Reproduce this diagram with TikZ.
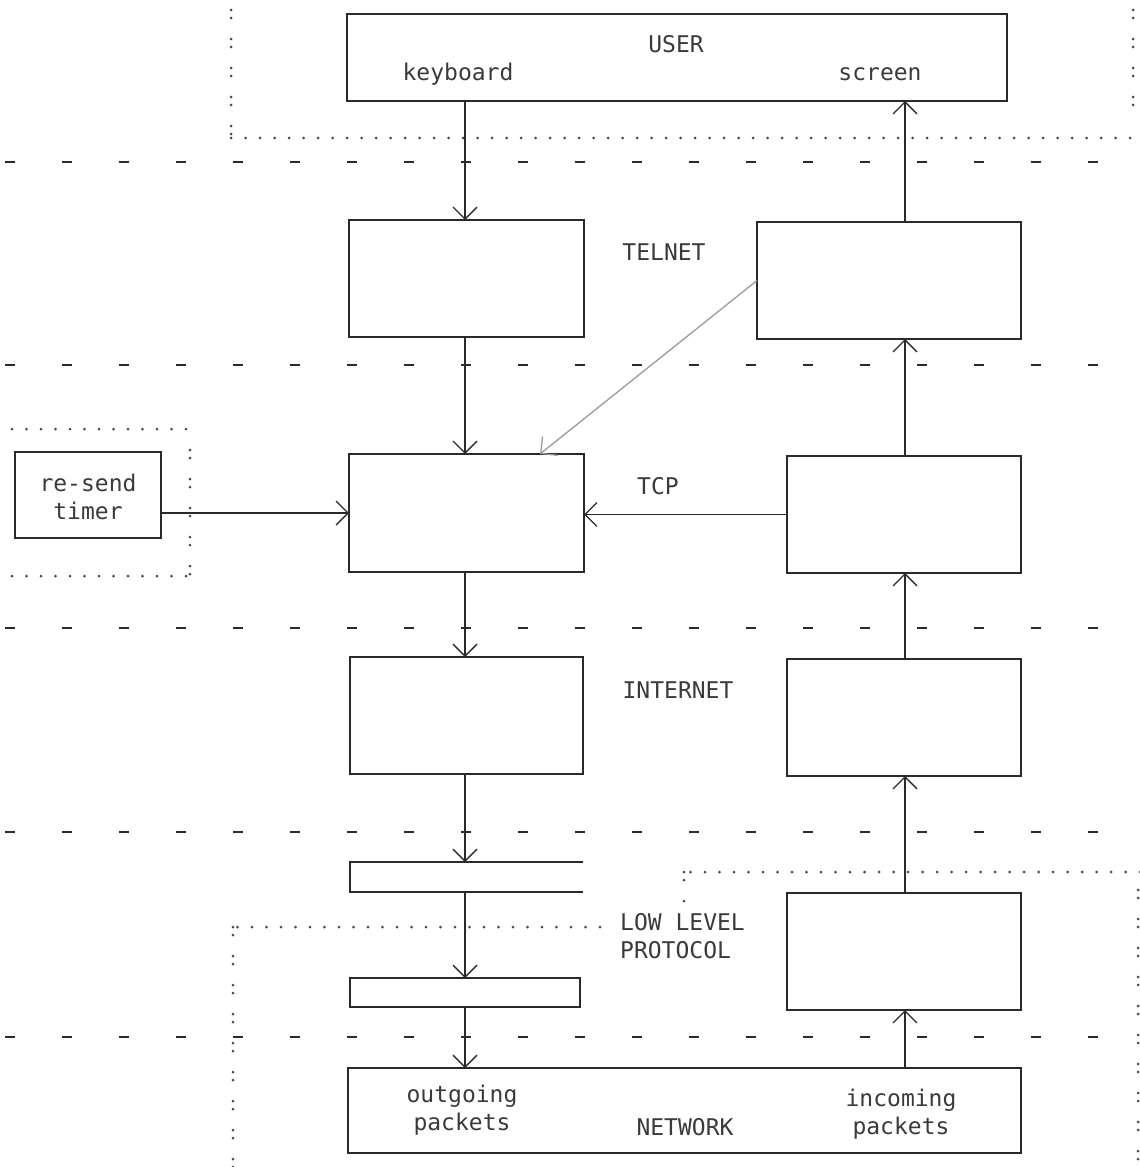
\documentclass[tikz,border=0pt]{standalone}
\usepackage{fontspec}
\setmonofont{DejaVu Sans Mono}
\usetikzlibrary{arrows.meta}
\definecolor{ink}{HTML}{2A2A2A}
\definecolor{txt}{HTML}{3A3A3A}
\definecolor{diag}{HTML}{9A9A9A}
\tikzset{
  boxst/.style={draw=ink,line width=1.6pt,inner sep=0pt,outer sep=0pt},
  ghost/.style={inner sep=0pt,outer sep=0pt},
  edge3/.style={draw=ink,line width=1.6pt},
  lbl/.style={text=txt,font=\ttfamily\fontsize{23}{28}\selectfont,inner sep=0pt},
  arr/.style={draw=ink,line width=1.3pt,-{Straight Barb[length=12pt,width=24pt,line width=1.3pt]}},
  diagarr/.style={draw=diag,line width=1.3pt,-{Straight Barb[length=12pt,width=24pt,line width=1.3pt]}},
  sep/.style={draw=ink,line width=2pt,dash pattern=on 10pt off 47pt,dash phase=-5pt},
  dotl/.style={draw=ink!85,line width=3pt,line cap=round,dash pattern=on 0pt off 14.5pt},
  coll/.style={draw=ink!85,line width=3pt,line cap=round,dash pattern=on 0pt off 8pt on 0pt off 21pt}
}
\begin{document}
\begin{tikzpicture}[x=1pt,y=-1pt]
\useasboundingbox (0,0) rectangle (1140,1167);

% layer separators
\draw[sep] (0,162) -- (1140,162);
\draw[sep] (0,365) -- (1140,365);
\draw[sep] (0,628) -- (1140,628);
\draw[sep] (0,832) -- (1140,832);
\draw[sep] (0,1037) -- (1140,1037);

% dotted boundaries
\draw[coll] (231,10) -- (231,138);
\draw[dotl] (231,138) -- (1140,138);
\draw[coll] (1133,10) -- (1133,125);

\draw[dotl] (12,429) -- (190,429);
\draw[coll] (190,450) -- (190,578);
\draw[dotl] (12,576) -- (190,576);

\draw[dotl] (600,927) -- (233,927);
\draw[coll] (233,927) -- (233,1167);

\draw[dotl] (1140,872) -- (684,872);
\draw[coll] (684,872) -- (684,902);
\draw[coll] (1138,890) -- (1138,1167);

% boxes
\node[boxst,minimum width=660pt,minimum height=87pt] (user) at (677,57.5) {};
\node[boxst,minimum width=235pt,minimum height=117pt] (telL) at (466.5,278.5) {};
\node[boxst,minimum width=264pt,minimum height=117pt] (telR) at (889,280.5) {};
\node[boxst,minimum width=235pt,minimum height=118pt] (tcpL) at (466.5,513) {};
\node[boxst,minimum width=234pt,minimum height=117pt] (tcpR) at (904,514.5) {};
\node[boxst,minimum width=233pt,minimum height=117pt] (intL) at (466.5,715.5) {};
\node[boxst,minimum width=234pt,minimum height=117pt] (intR) at (904,717.5) {};
\node[ghost,minimum width=233pt,minimum height=30pt] (llUp) at (466.5,877) {};
\draw[edge3] (llUp.north east) -- (llUp.north west) -- (llUp.south west) -- (llUp.south east);
\node[boxst,minimum width=230pt,minimum height=29pt] (llLow) at (465,992.5) {};
\node[boxst,minimum width=234pt,minimum height=117pt] (llR) at (904,951.5) {};
\node[boxst,minimum width=673pt,minimum height=85pt] (net) at (684.5,1110.5) {};
\node[boxst,minimum width=146pt,minimum height=86pt] (timer) at (88,495) {};

% labels
\node[lbl] (tUser) at (676,44) {USER};
\node[lbl] (tKey) at (458,74) {keyboard};
\node[lbl] (tScreen) at (880,74) {screen};
\node[lbl] (tTelnet) at (664,252) {TELNET};
\node[lbl] (tTcp) at (658,486) {TCP};
\node[lbl] (tInt) at (678,690) {INTERNET};
\node[lbl,align=left,anchor=west] (tLow) at (620,936) {LOW LEVEL\\PROTOCOL};
\node[lbl,align=center] (tOut) at (462,1110) {outgoing\\ packets};
\node[lbl] (tNet) at (685,1127) {NETWORK};
\node[lbl,align=center] (tIn) at (901,1114) {incoming\\ packets};
\node[lbl,align=center] (tTimer) at (88,497) {re-send\\timer};

% column coordinates
\coordinate (lc) at (465,0);
\coordinate (rc) at (905,0);
\coordinate (dEnd) at (540,454);

% connectors, left (outgoing) column
\draw[arr] (lc |- user.south) -- (lc |- telL.north);
\draw[arr] (lc |- telL.south) -- (lc |- tcpL.north);
\draw[arr] (lc |- tcpL.south) -- (lc |- intL.north);
\draw[arr] (lc |- intL.south) -- (lc |- llUp.north);
\draw[arr] (lc |- llUp.south) -- (lc |- llLow.north);
\draw[arr] (lc |- llLow.south) -- (lc |- net.north);

% right (incoming) column
\draw[arr] (rc |- net.north) -- (rc |- llR.south);
\draw[arr] (rc |- llR.north) -- (rc |- intR.south);
\draw[arr] (rc |- intR.north) -- (rc |- tcpR.south);
\draw[arr] (rc |- tcpR.north) -- (rc |- telR.south);
\draw[arr] (rc |- telR.north) -- (rc |- user.south);

% horizontal and diagonal
\draw[arr] (tcpR.west) -- (tcpL.east |- tcpR.west);
\draw[arr] (timer.east |- tcpL.west) -- (tcpL.west);
\draw[diagarr] (telR.west) -- (dEnd);
\end{tikzpicture}
\end{document}
